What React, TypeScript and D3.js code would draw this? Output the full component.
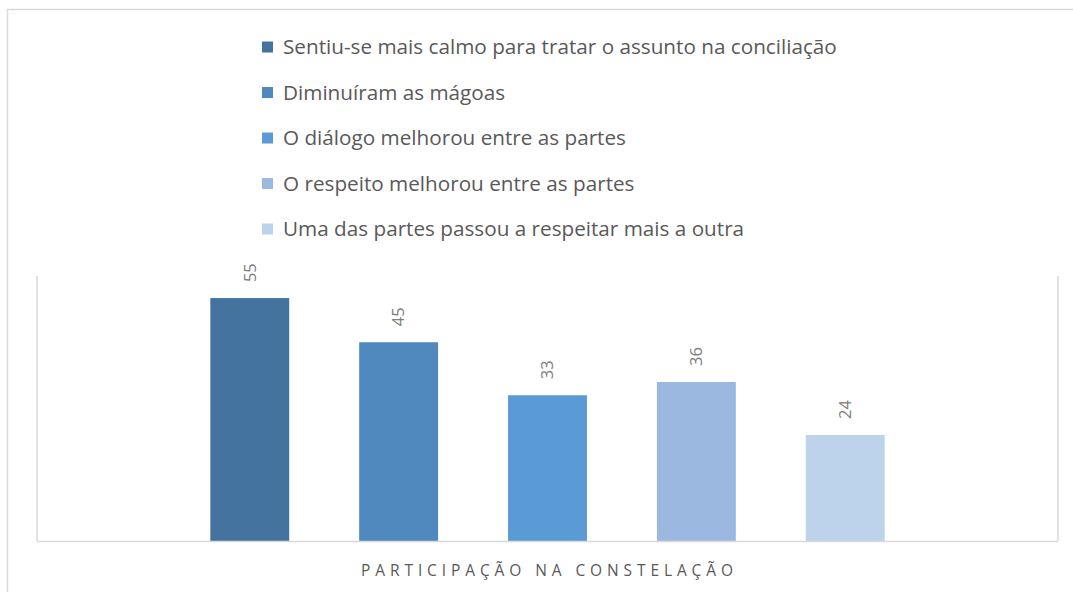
import React from "react";
import * as d3 from "d3";

const category = "PARTICIPAÇÃO NA CONSTELAÇÃO";
const seriesNames = [
  "Sentiu-se mais calmo para tratar o assunto na conciliação",
  "Diminuíram as mágoas",
  "O diálogo melhorou entre as partes",
  "O respeito melhorou entre as partes",
  "Uma das partes passou a respeitar mais a outra",
];
const seriesValues = [55, 45, 33, 36, 24];
const seriesColors = ["#43739E", "#4F89BE", "#5B9BD5", "#9BB9E0", "#BDD2EB"];
const yDomain = [0, 60];

const W = 1073;
const H = 592;
const plot = { left: 37, right: 1058, top: 276, bottom: 541 };

export default function App() {
  const x0 = d3.scaleBand<string>().domain([category]).range([plot.left, plot.right]).paddingInner(0).paddingOuter(0.257);
  const groupStart = x0(category)!;
  const groupW = x0.bandwidth();
  const x1 = d3
    .scaleBand<string>()
    .domain(seriesNames)
    .range([groupStart, groupStart + groupW])
    .paddingInner(0.47)
    .paddingOuter(0);
  const y = d3.scaleLinear().domain(yDomain).range([plot.bottom, plot.top]);
  const legendY = d3.scalePoint<string>().domain(seriesNames).range([47, 229]);
  const font = "'Open Sans', sans-serif";

  return (
    <svg width={W} height={H} style={{ position: "absolute", left: 0, top: 0 }} fontFamily={font}>
      <rect x={0} y={0} width={W} height={H} fill="#fff" />
      <rect x={7.5} y={9.5} width={W + 20} height={H + 20} fill="none" stroke="#d9d9d9" strokeWidth={1.5} />
      {seriesNames.map((s, i) => (
        <g key={s} transform={`translate(262,${legendY(s)})`}>
          <rect x={0} y={-5.5} width={11} height={11} fill={seriesColors[i]} />
          <text x={21} y={0} dy="0.35em" fontSize={20.7} fill="#595959">
            {s}
          </text>
        </g>
      ))}
      <line x1={plot.left} x2={plot.left} y1={plot.top} y2={plot.bottom} stroke="#d9d9d9" strokeWidth={1.5} />
      <line x1={plot.right} x2={plot.right} y1={plot.top} y2={plot.bottom} stroke="#d9d9d9" strokeWidth={1.5} />
      {seriesNames.map((s, i) => {
        const bx = x1(s)!;
        const by = y(seriesValues[i]);
        const cx = bx + x1.bandwidth() / 2;
        return (
          <g key={s}>
            <rect x={bx} y={by} width={x1.bandwidth()} height={plot.bottom - by} fill={seriesColors[i]} />
            <text
              transform={`translate(${cx},${by - 16}) rotate(-90)`}
              fontSize={16.5}
              fill="#808080"
              dy="0.35em"
            >
              {seriesValues[i]}
            </text>
          </g>
        );
      })}
      <line x1={plot.left} x2={plot.right} y1={plot.bottom + 0.5} y2={plot.bottom + 0.5} stroke="#d9d9d9" strokeWidth={1.5} />
      <text
        x={(plot.left + plot.right) / 2 + 2}
        y={571}
        dy="0.35em"
        textAnchor="middle"
        fontSize={15.5}
        letterSpacing={4.9}
        fill="#595959"
      >
        {category}
      </text>
    </svg>
  );
}
